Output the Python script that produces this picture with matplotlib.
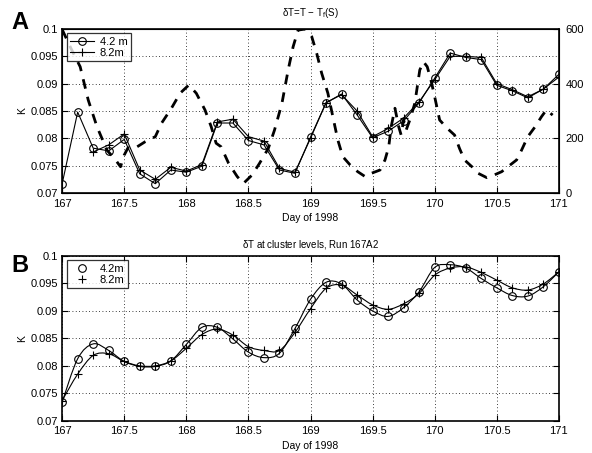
import matplotlib
matplotlib.use("Agg")
import matplotlib.pyplot as plt
from matplotlib.path import Path
from matplotlib.patches import PathPatch
from matplotlib.lines import Line2D
import numpy as np

plt.rcParams['font.family'] = ['Liberation Sans', 'DejaVu Sans']
plt.rcParams['mathtext.fontset'] = 'custom'
plt.rcParams['mathtext.rm'] = 'Liberation Sans'
plt.rcParams['mathtext.it'] = 'Liberation Sans'

# sample days (every 1/8 day)
days = [167.0, 167.125, 167.25, 167.375, 167.5, 167.625, 167.75, 167.875,
        168.0, 168.125, 168.25, 168.375, 168.5, 168.625, 168.75, 168.875,
        169.0, 169.125, 169.25, 169.375, 169.5, 169.625, 169.75, 169.875,
        170.0, 170.125, 170.25, 170.375, 170.5, 170.625, 170.75, 170.875, 171.0]

# panel A: dT = T - Tf(S)
a_42 = [0.0717, 0.0848, 0.0782, 0.0777, 0.0798, 0.0735, 0.0717, 0.0742,
        0.0738, 0.0749, 0.0828, 0.0828, 0.0796, 0.0788, 0.0742, 0.0736,
        0.0802, 0.0865, 0.0881, 0.0843, 0.0801, 0.0813, 0.0832, 0.0865,
        0.0910, 0.0956, 0.0948, 0.0944, 0.0897, 0.0887, 0.0874, 0.0890, 0.0917]
a_82_days = days[2:]
a_82 = [0.0775, 0.0788, 0.0808, 0.0742, 0.0725, 0.0747,
        0.0740, 0.0752, 0.0830, 0.0835, 0.0803, 0.0795, 0.0745, 0.0738,
        0.0800, 0.0865, 0.0880, 0.0850, 0.0803, 0.0818, 0.0837, 0.0867,
        0.0907, 0.0950, 0.0950, 0.0948, 0.0900, 0.0889, 0.0876, 0.0890, 0.0912]

# panel A dashed curve (right axis)
dash_day = [167.00, 167.07, 167.145, 167.21, 167.28, 167.36, 167.43, 167.47, 167.50,
            167.53, 167.59, 167.67, 167.75, 167.80, 167.88, 167.95, 168.02, 168.08,
            168.15, 168.20, 168.24, 168.28, 168.34, 168.41, 168.46, 168.53, 168.59,
            168.66, 168.71, 168.77, 168.82, 168.86, 168.90, 168.96, 169.01, 169.05,
            169.09, 169.14, 169.18, 169.22, 169.26, 169.32, 169.38, 169.44, 169.49,
            169.56, 169.60, 169.63, 169.65, 169.68, 169.71, 169.73, 169.75, 169.77,
            169.80, 169.84, 169.88, 169.91, 169.94, 169.97, 170.00, 170.04, 170.10,
            170.16, 170.20, 170.24, 170.30, 170.35, 170.42, 170.48, 170.54, 170.59,
            170.66, 170.70, 170.75, 170.81, 170.86, 170.90, 170.95]
dash_val = [598, 530, 462, 340, 243, 157, 121, 96, 139,
            165, 165, 188, 206, 255, 310, 365, 395, 365,
            304, 243, 182, 169, 109, 60, 35, 66, 109,
            163, 230, 328, 450, 535, 596, 600, 572, 511,
            438, 365, 279, 194, 133, 102, 78, 60, 72,
            84, 121, 169, 243, 310, 243, 212, 267, 230,
            267, 328, 450, 480, 462, 413, 352, 267, 237,
            212, 163, 121, 96, 72, 56, 66, 78, 96,
            121, 157, 206, 243, 279, 304, 285]

# panel B: dT at cluster levels
b_42 = [0.0734, 0.0813, 0.0840, 0.0828, 0.0808, 0.0799, 0.0799, 0.0809,
        0.0839, 0.0870, 0.0870, 0.0849, 0.0825, 0.0815, 0.0823, 0.0868,
        0.0921, 0.0952, 0.0949, 0.0920, 0.0900, 0.0890, 0.0906, 0.0935,
        0.0979, 0.0984, 0.0978, 0.0959, 0.0942, 0.0928, 0.0927, 0.0944, 0.0971]
b_82 = [0.0737, 0.0785, 0.0819, 0.0822, 0.0808, 0.0800, 0.0800, 0.0809,
        0.0832, 0.0857, 0.0867, 0.0856, 0.0835, 0.0828, 0.0828, 0.0861,
        0.0904, 0.0941, 0.0947, 0.0929, 0.0911, 0.0903, 0.0913, 0.0932,
        0.0965, 0.0978, 0.0980, 0.0970, 0.0956, 0.0942, 0.0938, 0.0949, 0.0971]

xticks = [167, 167.5, 168, 168.5, 169, 169.5, 170, 170.5, 171]
xticklabels = ['167', '167.5', '168', '168.5', '169', '169.5', '170', '170.5', '171']
yticks = [0.07, 0.075, 0.08, 0.085, 0.09, 0.095, 0.1]
yticklabels = ['0.07', '0.075', '0.08', '0.085', '0.09', '0.095', '0.1']


def smooth_path(x, y):
    # Catmull-Rom curve through the points, drawn as cubic Bezier segments
    p = np.column_stack([x, y])
    ext = np.vstack([p[0], p, p[-1]])
    verts = [p[0]]
    codes = [Path.MOVETO]
    for i in range(len(p) - 1):
        p0, p1, p2, p3 = ext[i], ext[i + 1], ext[i + 2], ext[i + 3]
        verts += [p1 + (p2 - p0) / 6, p2 - (p3 - p1) / 6, p2]
        codes += [Path.CURVE4] * 3
    return Path(verts, codes)


def style_axes(ax):
    ax.set_xlim(167, 171)
    ax.set_ylim(0.07, 0.1)
    ax.set_xticks(xticks)
    ax.set_xticklabels(xticklabels)
    ax.set_yticks(yticks)
    ax.set_yticklabels(yticklabels)
    ax.grid(True, color='black', linestyle=(0, (1, 3)), linewidth=0.6)
    ax.tick_params(direction='in', length=4, width=0.8, labelsize=8, pad=3)
    ax.tick_params(axis='x', pad=4)
    for s in ax.spines.values():
        s.set_linewidth(1.2)
    ax.set_xlabel('Day of 1998', fontsize=7.5, labelpad=3)
    ax.set_ylabel('K', fontsize=7.5, labelpad=2)


fig = plt.figure(figsize=(5.92, 4.53), dpi=100)

# ---- panel A ----
ax1 = fig.add_axes([0.105, 0.574, 0.839, 0.362])
ax1r = ax1.twinx()
ax1r.plot(dash_day, dash_val, color='black', linewidth=2.0,
          linestyle=(0, (3.5, 3.0)), zorder=1)
ax1r.set_ylim(0, 600)
ax1r.set_yticks([0, 200, 400, 600])
ax1r.tick_params(direction='in', length=4, width=0.8, labelsize=8, pad=5)
ax1.set_zorder(ax1r.get_zorder() + 1)
ax1.patch.set_visible(False)

ax1.plot(days, a_42, color='black', linewidth=0.8, marker='o', markersize=5.5,
         markerfacecolor='none', markeredgewidth=0.8, label='4.2 m')
ax1.plot(a_82_days, a_82, color='black', linewidth=0.8, marker='+', markersize=6,
         markeredgewidth=0.8, label='8.2m')
style_axes(ax1)
ax1.set_title(r'$\delta$T=T $-$ T$_{\rm f}$(S)', fontsize=7, pad=9)
leg1 = ax1.legend(loc='upper left', fontsize=8, frameon=True, fancybox=False,
                  edgecolor='black', handlelength=2.2, borderpad=0.3,
                  labelspacing=0.1, handletextpad=0.5, borderaxespad=0.4)
leg1.get_frame().set_linewidth(0.9)
fig.text(0.02, 0.951, 'A', fontsize=17, fontweight='bold', va='center', ha='left')

# ---- panel B ----
ax2 = fig.add_axes([0.105, 0.071, 0.839, 0.364])
ax2.add_patch(PathPatch(smooth_path(days, b_42), fill=False, edgecolor='black', linewidth=0.8))
ax2.add_patch(PathPatch(smooth_path(days, b_82), fill=False, edgecolor='black', linewidth=0.8))
ax2.plot(days, b_42, linestyle='none', color='black', marker='o', markersize=5.5,
         markerfacecolor='none', markeredgewidth=0.8)
ax2.plot(days, b_82, linestyle='none', color='black', marker='+', markersize=6,
         markeredgewidth=0.8)
style_axes(ax2)
ax2.tick_params(right=True, top=True)
ax2.set_title(r'$\delta$T at cluster levels, Run 167A2', fontsize=7, pad=6)
handles = [Line2D([], [], linestyle='none', color='black', marker='o', markersize=5.5,
                  markerfacecolor='none', markeredgewidth=0.8),
           Line2D([], [], linestyle='none', color='black', marker='+', markersize=6,
                  markeredgewidth=0.8)]
leg2 = ax2.legend(handles, ['4.2m', '8.2m'], loc='upper left', fontsize=8,
                  frameon=True, fancybox=False, edgecolor='black', handlelength=2.2,
                  borderpad=0.3, labelspacing=0.1, handletextpad=0.5, borderaxespad=0.4)
leg2.get_frame().set_linewidth(0.9)
fig.text(0.02, 0.413, 'B', fontsize=17, fontweight='bold', va='center', ha='left')

fig.savefig('out.png', dpi=100)
